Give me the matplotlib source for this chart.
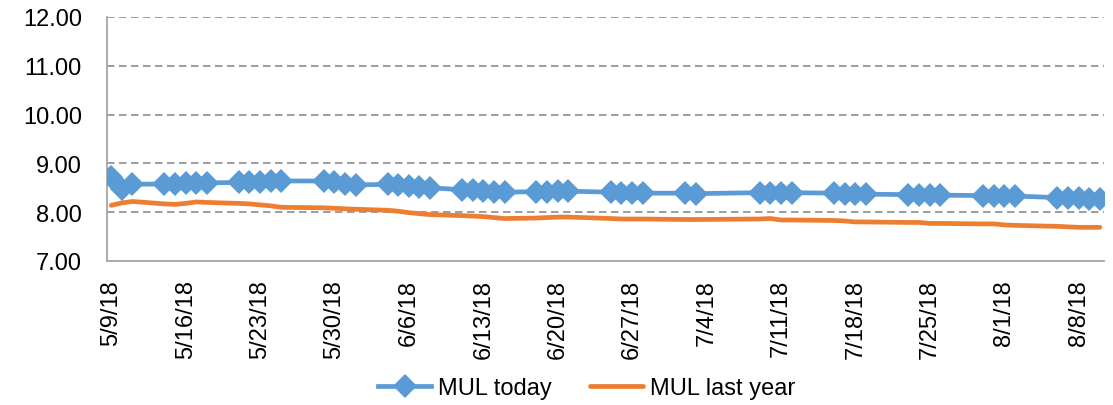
import datetime as dt
import matplotlib
matplotlib.use("Agg")
import matplotlib.pyplot as plt
import matplotlib.dates as mdates

# trading days shown in the chart
dates = [
    "2018-05-09", "2018-05-10", "2018-05-11",
    "2018-05-14", "2018-05-15", "2018-05-16", "2018-05-17", "2018-05-18",
    "2018-05-21", "2018-05-22", "2018-05-23", "2018-05-24", "2018-05-25",
    "2018-05-29", "2018-05-30", "2018-05-31", "2018-06-01",
    "2018-06-04", "2018-06-05", "2018-06-06", "2018-06-07", "2018-06-08",
    "2018-06-11", "2018-06-12", "2018-06-13", "2018-06-14", "2018-06-15",
    "2018-06-18", "2018-06-19", "2018-06-20", "2018-06-21",
    "2018-06-25", "2018-06-26", "2018-06-27", "2018-06-28",
    "2018-07-02", "2018-07-03",
    "2018-07-09", "2018-07-10", "2018-07-11", "2018-07-12",
    "2018-07-16", "2018-07-17", "2018-07-18", "2018-07-19",
    "2018-07-23", "2018-07-24", "2018-07-25", "2018-07-26",
    "2018-07-30", "2018-07-31", "2018-08-01", "2018-08-02",
    "2018-08-06", "2018-08-07", "2018-08-08", "2018-08-09", "2018-08-10",
]

mul_today = [
    8.72, 8.48, 8.57,
    8.58, 8.58, 8.59, 8.59, 8.60,
    8.61, 8.62, 8.62, 8.63, 8.64,
    8.64, 8.62, 8.58, 8.56,
    8.57, 8.55, 8.54, 8.52, 8.50,
    8.46, 8.45, 8.43, 8.42, 8.41,
    8.42, 8.42, 8.43, 8.43,
    8.41, 8.40, 8.40, 8.39,
    8.39, 8.38,
    8.40, 8.40, 8.40, 8.40,
    8.39, 8.38, 8.37, 8.37,
    8.36, 8.35, 8.35, 8.35,
    8.34, 8.34, 8.33, 8.33,
    8.30, 8.29, 8.29, 8.28, 8.27,
]

mul_last_year = [
    8.14, 8.19, 8.22,
    8.17, 8.16, 8.18, 8.21, 8.20,
    8.18, 8.17, 8.15, 8.13, 8.10,
    8.09, 8.08, 8.07, 8.06,
    8.04, 8.02, 7.99, 7.97, 7.95,
    7.93, 7.92, 7.91, 7.89, 7.87,
    7.88, 7.89, 7.90, 7.90,
    7.87, 7.86, 7.86, 7.86,
    7.85, 7.85,
    7.86, 7.87, 7.84, 7.84,
    7.83, 7.82, 7.80, 7.80,
    7.79, 7.79, 7.77, 7.77,
    7.76, 7.76, 7.74, 7.73,
    7.71, 7.70, 7.69, 7.69, 7.69,
]

tick_dates = [
    "2018-05-09", "2018-05-16", "2018-05-23", "2018-05-30", "2018-06-06",
    "2018-06-13", "2018-06-20", "2018-06-27", "2018-07-04", "2018-07-11",
    "2018-07-18", "2018-07-25", "2018-08-01", "2018-08-08",
]

x = [dt.datetime.strptime(d, "%Y-%m-%d") for d in dates]
ticks = [dt.datetime.strptime(d, "%Y-%m-%d") for d in tick_dates]
tick_labels = [f"{d.month}/{d.day}/{d.year % 100}" for d in ticks]

plt.rcParams["font.family"] = ["Liberation Sans", "DejaVu Sans"]
FS = 17

fig = plt.figure(figsize=(11.13, 4.06), dpi=100)
ax = fig.add_axes([0.0961, 0.3547, 0.8959, 0.601])

blue = "#5B9BD5"
orange = "#ED7D31"

ax.plot(x, mul_today, color=blue, lw=3.4, marker="D", markersize=12.5,
        markeredgewidth=0, label="MUL today", zorder=3)
ax.plot(x, mul_last_year, color=orange, lw=3.4, solid_capstyle="round",
        label="MUL last year", zorder=2)

ax.set_ylim(7, 12)
ax.set_yticks([7, 8, 9, 10, 11, 12])
ax.set_yticklabels([f"{v:.2f}" for v in [7, 8, 9, 10, 11, 12]])
ax.set_xlim(mdates.date2num(x[0]) - 0.4, mdates.date2num(x[-1]) + 0.4)
ax.set_xticks(ticks)
ax.set_xticklabels(tick_labels, rotation=90)

ax.yaxis.grid(True, color="#8C8C8C", lw=1.2, linestyle=(0, (4.5, 2.7)))
ax.set_axisbelow(True)
for s in ["top", "right"]:
    ax.spines[s].set_visible(False)
for s in ["left", "bottom"]:
    ax.spines[s].set_color("#A6A6A6")
    ax.spines[s].set_linewidth(1.3)

ax.tick_params(axis="y", length=0, pad=18, labelsize=FS)
ax.tick_params(axis="x", length=0, pad=13, labelsize=FS)

fig.legend(loc="center", bbox_to_anchor=(0.527, 0.042), ncol=2, frameon=False,
           fontsize=FS, handlelength=2.25, handletextpad=0.3, columnspacing=1.6)

fig.savefig("out.png", dpi=100)
